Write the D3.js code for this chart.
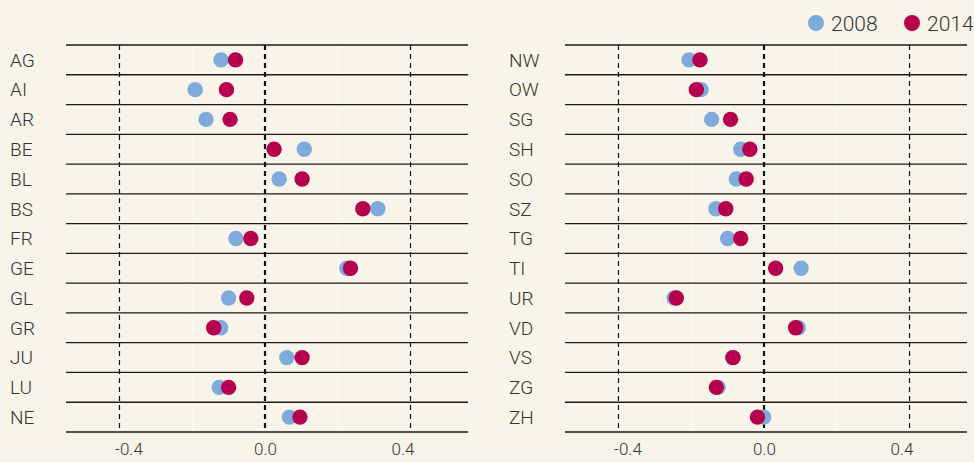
<!DOCTYPE html>
<html>
<head>
<meta charset="utf-8">
<script src="https://cdn.jsdelivr.net/npm/d3@7"></script>
<style>
  body { margin: 0; background: #f8f4e9; }
  svg { display: block; font-family: Roboto, "Liberation Sans", sans-serif; font-weight: 300; }
</style>
</head>
<body>
<div id="chart"></div>
<script>
// cantons, split in two panels
const cantonsLeft = ["AG", "AI", "AR", "BE", "BL", "BS", "FR", "GE", "GL", "GR", "JU", "LU", "NE"];
const cantonsRight = ["NW", "OW", "SG", "SH", "SO", "SZ", "TG", "TI", "UR", "VD", "VS", "ZG", "ZH"];

const values2008Left = [-0.121, -0.192, -0.162, 0.108, 0.039, 0.310, -0.080, 0.225, -0.100, -0.122, 0.060, -0.126, 0.067];
const values2014Left = [-0.081, -0.106, -0.096, 0.025, 0.102, 0.269, -0.039, 0.235, -0.050, -0.141, 0.102, -0.100, 0.096];
const values2008Right = [-0.206, -0.173, -0.144, -0.064, -0.076, -0.132, -0.100, 0.102, -0.247, 0.094, -0.087, -0.126, -0.001];
const values2014Right = [-0.176, -0.186, -0.092, -0.039, -0.049, -0.105, -0.064, 0.032, -0.241, 0.087, -0.085, -0.131, -0.018];

const years = ["2008", "2014"];
const xTicks = [-0.4, 0.0, 0.4];
const gridTicks = [-0.4, -0.2, 0.0, 0.2, 0.4];

const colors = {"2008": "#7eaadc", "2014": "#b7004d"};
const width = 974, height = 462;

const svg = d3.select("#chart").append("svg")
    .attr("width", width)
    .attr("height", height);

svg.append("rect").attr("width", width).attr("height", height).attr("fill", "#f8f4e9");

function drawPanel(left, cantons, v2008, v2014){
    const plotLeft = left + 66, plotRight = left + 468;
    const top = 45, bottom = 432;

    const x = d3.scaleLinear().domain([-0.547, 0.558]).range([plotLeft, plotRight]);
    const y = d3.scaleBand().domain(cantons).range([top, bottom]);

    const g = svg.append("g");

    // faint white grid
    g.selectAll(".grid").data(gridTicks).enter().append("line")
        .attr("x1", d => x(d)).attr("x2", d => x(d))
        .attr("y1", top).attr("y2", bottom)
        .attr("stroke", "#ffffff").attr("stroke-width", 1)
        .attr("stroke-opacity", 0.6);

    // row separators
    const edges = cantons.map(c => y(c)).concat([bottom]);
    g.selectAll(".sep").data(edges).enter().append("line")
        .attr("x1", plotLeft).attr("x2", plotRight)
        .attr("y1", d => d).attr("y2", d => d)
        .attr("stroke", "#1a1a1a").attr("stroke-width", 1.3);

    // dashed reference lines
    g.selectAll(".ref").data(xTicks).enter().append("line")
        .attr("x1", d => x(d)).attr("x2", d => x(d))
        .attr("y1", top).attr("y2", bottom)
        .attr("stroke", "#111")
        .attr("stroke-width", d => d === 0 ? 2.2 : 1.2)
        .attr("stroke-dasharray", "5,4");

    // canton labels
    g.selectAll(".lab").data(cantons).enter().append("text")
        .attr("x", left + 10)
        .attr("y", d => y(d) + y.bandwidth() / 2)
        .attr("dy", "0.36em")
        .attr("font-size", 19)
        .attr("fill", "#333")
        .text(d => d);

    // axis
    const axis = g.append("g")
        .attr("transform", `translate(0,${bottom})`)
        .call(d3.axisBottom(x).tickValues(xTicks).tickFormat(d3.format(".1f")).tickSize(0).tickPadding(11));
    axis.select(".domain").remove();
    axis.selectAll("text")
        .attr("font-size", 17)
        .attr("font-family", "Roboto, sans-serif")
        .attr("font-weight", 300)
        .attr("fill", "#333")
        .attr("dx", d => d < 0 ? 9 : d > 0 ? -8 : 0)
        .text(d => d3.format(".1f")(d).replace("−", "-"));

    const series = [
        {year: "2008", vals: v2008},
        {year: "2014", vals: v2014}
    ];
    series.forEach(s => {
        g.selectAll(".dot" + s.year).data(cantons).enter().append("circle")
            .attr("cx", (d, i) => x(s.vals[i]))
            .attr("cy", d => y(d) + y.bandwidth() / 2)
            .attr("r", 7.7)
            .attr("fill", colors[s.year]);
    });
}

drawPanel(0, cantonsLeft, values2008Left, values2014Left);
drawPanel(499, cantonsRight, values2008Right, values2014Right);

// legend
const legend = svg.append("g").attr("transform", "translate(0,23)");
const legendX = [816, 912];
years.forEach((yr, i) => {
    legend.append("circle").attr("cx", legendX[i]).attr("cy", 0).attr("r", 8).attr("fill", colors[yr]);
    legend.append("text")
        .attr("x", legendX[i] + 15)
        .attr("y", 0)
        .attr("dy", "0.36em")
        .attr("font-size", 21)
        .attr("fill", "#333")
        .text(yr);
});
</script>
</body>
</html>
